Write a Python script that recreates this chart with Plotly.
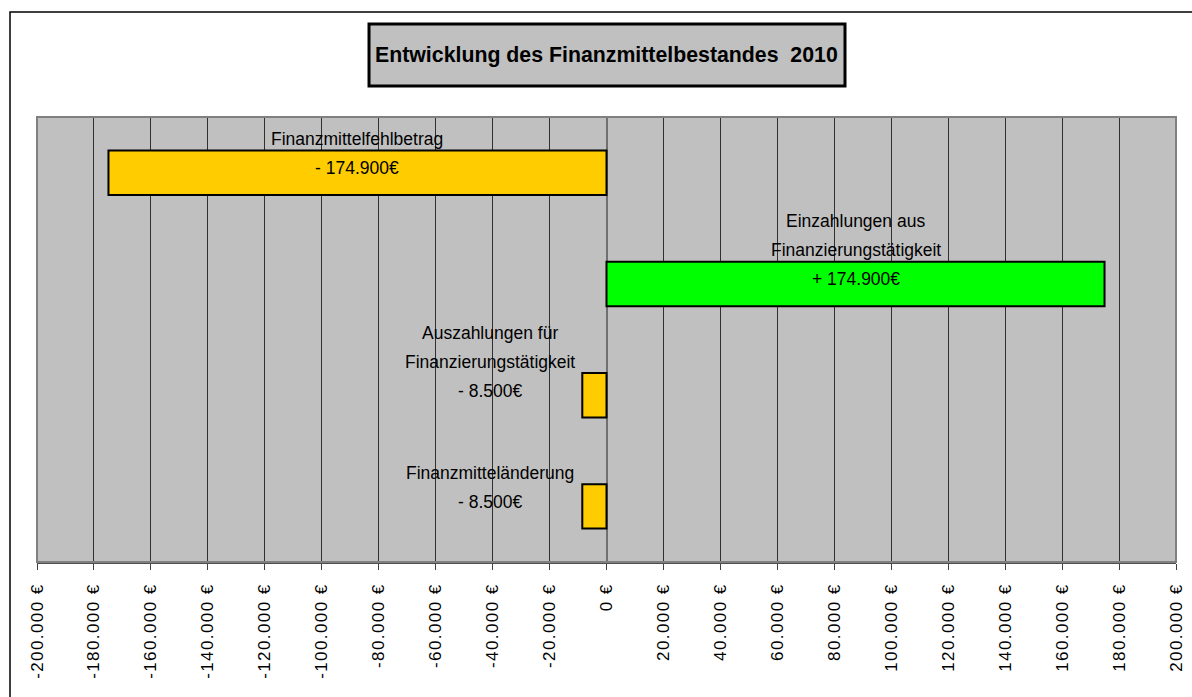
import plotly.graph_objects as go

# Cash flow summary 2010
categories = [
    "Finanzmittelfehlbetrag",
    "Einzahlungen aus<br>Finanzierungstätigkeit",
    "Auszahlungen für<br>Finanzierungstätigkeit",
    "Finanzmitteländerung",
]
values = [-174900, 174900, -8500, -8500]
bar_colors = ["#FFCC00", "#00FF00", "#FFCC00", "#FFCC00"]
tick_values = list(range(-200000, 200001, 20000))
title_text = "Entwicklung des Finanzmittelbestandes\u00a0\u00a02010"

FONT = "Liberation Sans, Arial, sans-serif"
LINE_STEP = 29      # px between label lines
LAST_LINE_UP = 4.5  # last label line sits slightly above the bar centre
SMALL_BAR_SHIFT = -92  # labels of short bars are placed left of the bar


def euro(v, spaced=False):
    s = f"{abs(v):,}".replace(",", ".")
    if v < 0:
        s = "-" + s
    s = s + " €"
    if spaced:
        s = "\u200a".join(s)
    return s


def signed_label(v):
    sign = "-" if v < 0 else "+"
    return f"{sign} {abs(v):,}".replace(",", ".") + "€"


tick_text = [euro(v, spaced=True) for v in tick_values]

fig = go.Figure(
    go.Bar(
        x=values,
        y=list(range(len(categories))),
        orientation="h",
        marker=dict(color=bar_colors, line=dict(color="#000000", width=2)),
        hoverinfo="skip",
    )
)

# data labels, one annotation per text line
for i, (name, v) in enumerate(zip(categories, values)):
    lines = name.split("<br>") + [signed_label(v)]
    big = abs(v) > 50000
    n = len(lines)
    for k, line in enumerate(lines):
        from_end = n - 1 - k
        fig.add_annotation(
            x=v / 2 if big else v,
            y=i,
            xref="x",
            yref="y",
            text=line,
            showarrow=False,
            xanchor="center",
            yanchor="middle",
            xshift=0 if big else SMALL_BAR_SHIFT,
            yshift=LAST_LINE_UP + LINE_STEP * from_end,
            font=dict(family=FONT, size=17.5, color="#000000"),
        )

# title box
fig.add_shape(
    type="rect", xref="paper", yref="paper",
    x0=0.2915, x1=0.7094, y0=1.0697, y1=1.209,
    fillcolor="#C0C0C0", line=dict(color="#000000", width=3), layer="above",
)
fig.add_annotation(
    x=0.5, y=1.139, xref="paper", yref="paper",
    text=f"<b>{title_text}</b>", showarrow=False,
    xanchor="center", yanchor="middle",
    font=dict(family=FONT, size=21.3, color="#000000"),
)

# plot area border
fig.add_shape(
    type="rect", xref="paper", yref="paper",
    x0=0, x1=1, y0=0, y1=1,
    line=dict(color="#808080", width=2), layer="above",
)
# outer chart frame
fig.add_shape(
    type="rect", xref="paper", yref="paper",
    x0=-0.0237, x1=1.2, y0=-0.5, y1=1.236,
    line=dict(color="#000000", width=1.5),
)

fig.update_layout(
    width=1192,
    height=697,
    margin=dict(l=37, r=16, t=117, b=135, autoexpand=False),
    paper_bgcolor="#FFFFFF",
    plot_bgcolor="#C0C0C0",
    bargap=0.6,
    showlegend=False,
    xaxis=dict(
        range=[-200000, 200000],
        tickvals=tick_values,
        ticktext=tick_text,
        tickangle=-90,
        tickfont=dict(family=FONT, size=17, color="#000000"),
        ticks="outside",
        ticklen=6,
        tickcolor="#404040",
        ticklabelstandoff=8,
        automargin=False,
        showgrid=True,
        gridcolor="#303030",
        gridwidth=1,
        zeroline=True,
        zerolinecolor="#707070",
        zerolinewidth=2,
        showline=True,
        linecolor="#505050",
        linewidth=2,
        fixedrange=True,
    ),
    yaxis=dict(
        range=[3.5, -0.5],
        showticklabels=False,
        showgrid=False,
        zeroline=False,
        ticks="",
        automargin=False,
        fixedrange=True,
    ),
)

fig.write_html("out.html")
